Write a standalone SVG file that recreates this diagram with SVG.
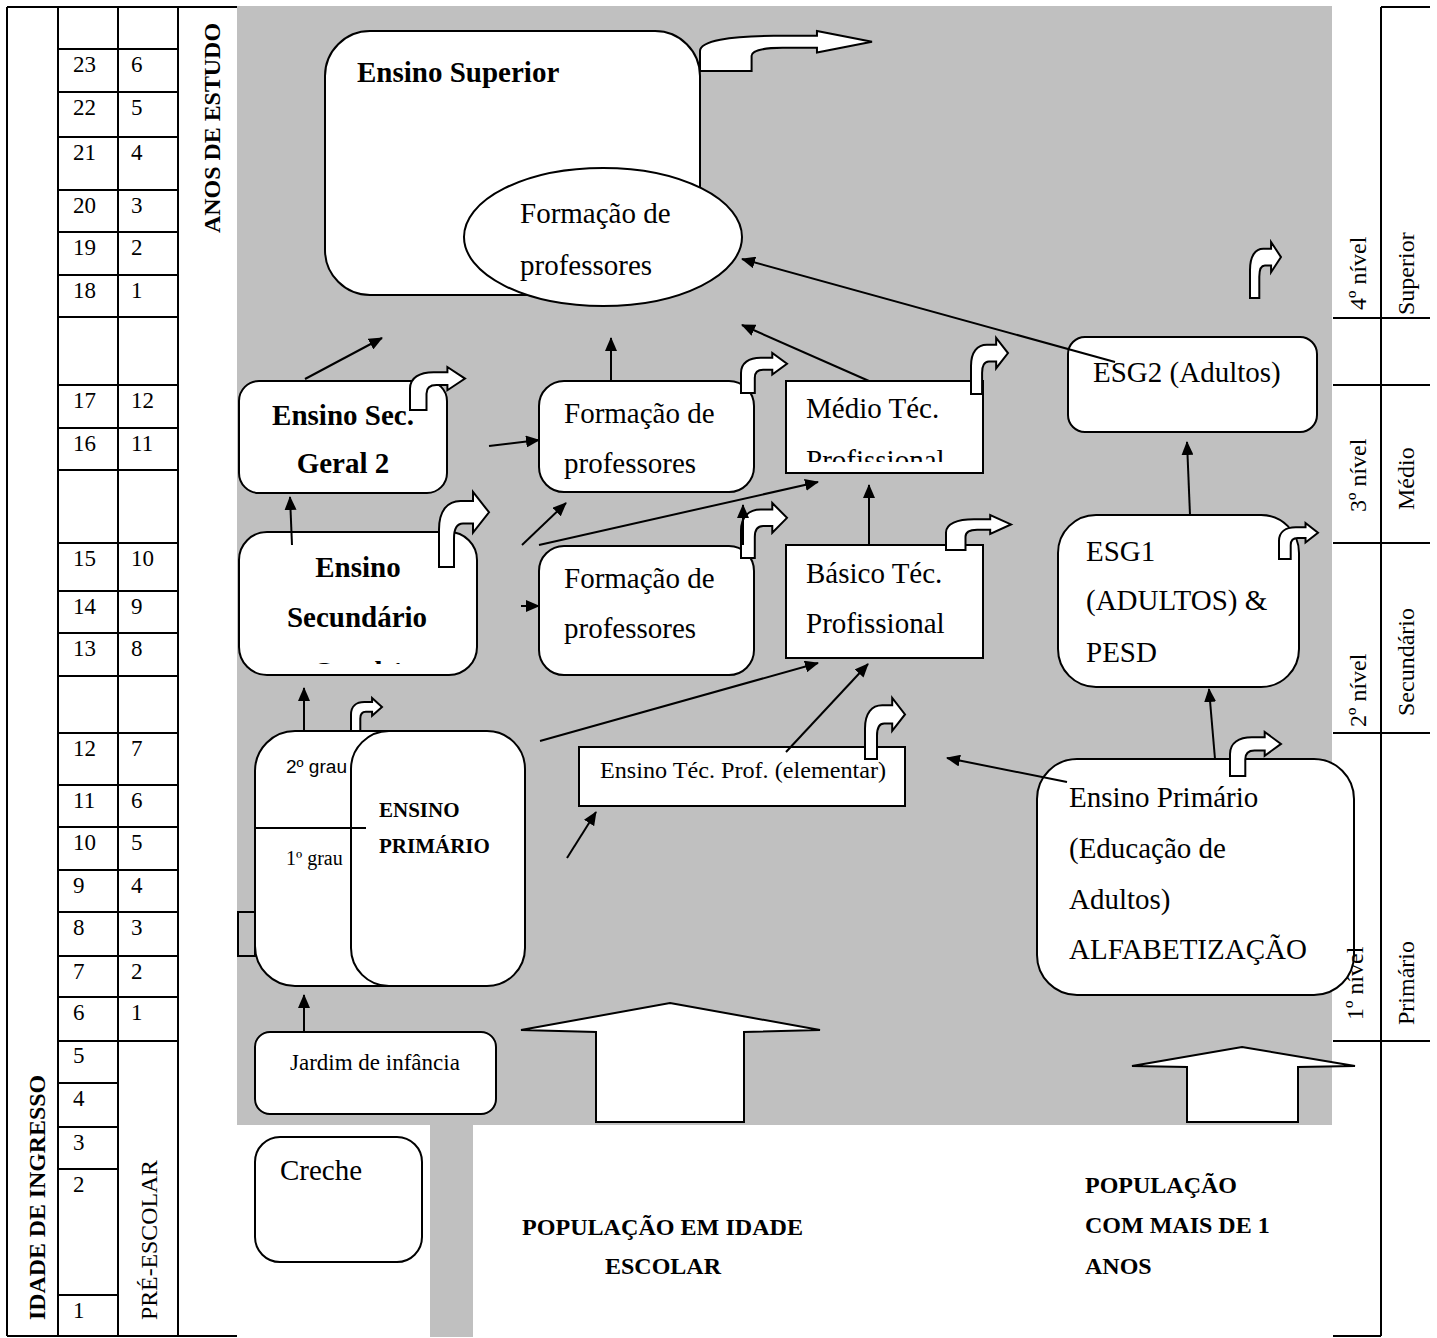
<svg xmlns="http://www.w3.org/2000/svg" xmlns:xlink="http://www.w3.org/1999/xlink" width="1437" height="1338" viewBox="0 0 1437 1338">
<style>
.t{font-family:"Liberation Serif","Times New Roman",serif;fill:#000}
.b{font-weight:bold}
.s29{font-size:29px}
.s24{font-size:24px}
.s23{font-size:23px}
.box{fill:#fff;stroke:#000;stroke-width:2}
.ln{stroke:#000;stroke-width:2;fill:none}
.cn{stroke:#000;stroke-width:2;fill:none;marker-end:url(#ah)}
.grey{fill:#c0c0c0}
</style>
<defs>
<marker id="ah" markerUnits="userSpaceOnUse" markerWidth="14" markerHeight="12" refX="13" refY="6" orient="auto">
<path d="M0,0 L14,6 L0,12 Z" fill="#000"/>
</marker>
<path id="bent" d="M0,1 L0,0.5 C0,0.25 0.17,0.12 0.43,0.12 L0.68,0.12 L0.68,0 L1,0.27 L0.68,0.54 L0.68,0.42 L0.48,0.42 C0.36,0.42 0.3,0.5 0.3,0.62 L0.3,1 Z" fill="#fff" stroke="#000" stroke-width="2" vector-effect="non-scaling-stroke"/>
<clipPath id="clipMedio"><rect x="787" y="382" width="195" height="80"/></clipPath>
<clipPath id="clipSec"><rect x="240" y="533" width="236" height="131"/></clipPath>
</defs>

<rect width="1437" height="1338" fill="#fff"/>

<g id="background">
<rect class="grey" x="237" y="6" width="1095" height="1119"/>
<rect class="grey" x="430" y="1125" width="43" height="212"/>
</g>

<g id="left-table">
<path class="ln" d="M7,7 V1336 M58,7 V1336 M118,7 V1336 M178,7 V1336 M7,7 H237 M7,1336 H237"/>
<path class="ln" d="M58,49 H178 M58,92 H178 M58,137 H178 M58,190 H178 M58,232 H178 M58,275 H178 M58,317 H178 M58,385 H178 M58,428 H178 M58,470 H178 M58,543 H178 M58,591 H178 M58,633 H178 M58,676 H178 M58,733 H178 M58,785 H178 M58,827 H178 M58,870 H178 M58,912 H178 M58,956 H178 M58,997 H178 M58,1041 H178 M58,1083 H118 M58,1127 H118 M58,1169 H118 M58,1295 H118"/>
<g class="t s23">
<text x="73" y="72">23</text><text x="131" y="72">6</text>
<text x="73" y="115">22</text><text x="131" y="115">5</text>
<text x="73" y="160">21</text><text x="131" y="160">4</text>
<text x="73" y="213">20</text><text x="131" y="213">3</text>
<text x="73" y="255">19</text><text x="131" y="255">2</text>
<text x="73" y="298">18</text><text x="131" y="298">1</text>
<text x="73" y="408">17</text><text x="131" y="408">12</text>
<text x="73" y="451">16</text><text x="131" y="451">11</text>
<text x="73" y="566">15</text><text x="131" y="566">10</text>
<text x="73" y="614">14</text><text x="131" y="614">9</text>
<text x="73" y="656">13</text><text x="131" y="656">8</text>
<text x="73" y="756">12</text><text x="131" y="756">7</text>
<text x="73" y="808">11</text><text x="131" y="808">6</text>
<text x="73" y="850">10</text><text x="131" y="850">5</text>
<text x="73" y="893">9</text><text x="131" y="893">4</text>
<text x="73" y="935">8</text><text x="131" y="935">3</text>
<text x="73" y="979">7</text><text x="131" y="979">2</text>
<text x="73" y="1020">6</text><text x="131" y="1020">1</text>
<text x="73" y="1063">5</text>
<text x="73" y="1106">4</text>
<text x="73" y="1150">3</text>
<text x="73" y="1192">2</text>
<text x="73" y="1318">1</text>
</g>
<text class="t b s24" transform="translate(220,233) rotate(-90)" textLength="210" lengthAdjust="spacingAndGlyphs">ANOS DE ESTUDO</text>
<text class="t b s24" transform="translate(45,1320) rotate(-90)" textLength="245" lengthAdjust="spacingAndGlyphs">IDADE DE INGRESSO</text>
<text class="t s24" transform="translate(157,1320) rotate(-90)" textLength="160" lengthAdjust="spacingAndGlyphs">PRÉ-ESCOLAR</text>
</g>

<g id="ensino-superior">
<rect class="box" x="325" y="31" width="375" height="264" rx="45"/>
<text class="t b s29" x="357" y="82">Ensino Superior</text>
</g>
<g id="formacao-professores-superior">
<ellipse class="box" cx="603" cy="237" rx="139" ry="69"/>
<text class="t s29" x="520" y="223">Formação de</text>
<text class="t s29" x="520" y="275">professores</text>
</g>

<g id="ensino-sec-geral-2">
<rect class="box" x="239" y="381" width="208" height="112" rx="20"/>
<text class="t b s29" x="343" y="425" text-anchor="middle">Ensino Sec.</text>
<text class="t b s29" x="343" y="473" text-anchor="middle">Geral 2</text>
</g>

<g id="ensino-secundario">
<rect class="box" x="239" y="532" width="238" height="143" rx="28"/>
<text class="t b s29" x="358" y="577" text-anchor="middle">Ensino</text>
<text class="t b s29" x="357" y="627" text-anchor="middle">Secundário</text>
<text class="t b s29" x="358" y="682" text-anchor="middle" clip-path="url(#clipSec)">Geral 1</text>
</g>

<g id="formacao-professores-1">
<rect class="box" x="539" y="381" width="215" height="111" rx="25"/>
<text class="t s29" x="564" y="423">Formação de</text>
<text class="t s29" x="564" y="473">professores</text>
</g>

<g id="medio-tec-profissional">
<rect class="box" x="786" y="381" width="197" height="92"/>
<text class="t s29" x="806" y="418">Médio Téc.</text>
<text class="t s29" x="806" y="470" clip-path="url(#clipMedio)">Profissional</text>
</g>

<g id="formacao-professores-2">
<rect class="box" x="539" y="546" width="215" height="129" rx="25"/>
<text class="t s29" x="564" y="588">Formação de</text>
<text class="t s29" x="564" y="638">professores</text>
</g>

<g id="basico-tec-profissional">
<rect class="box" x="786" y="545" width="197" height="113"/>
<text class="t s29" x="806" y="583">Básico Téc.</text>
<text class="t s29" x="806" y="633">Profissional</text>
</g>

<g id="esg2-adultos">
<rect class="box" x="1068" y="337" width="249" height="95" rx="17"/>
<text class="t s29" x="1093" y="382">ESG2 (Adultos)</text>
</g>

<g id="esg1-adultos-pesd">
<rect class="box" x="1058" y="515" width="241" height="172" rx="38"/>
<text class="t s29" x="1086" y="561">ESG1</text>
<text class="t s29" x="1086" y="610">(ADULTOS) &amp;</text>
<text class="t s29" x="1086" y="662">PESD</text>
</g>

<g id="ensino-primario">
<rect x="238" y="912" width="17" height="44" fill="none" stroke="#000" stroke-width="2"/>
<rect class="box" x="255" y="731" width="200" height="255" rx="40"/>
<rect class="box" x="351" y="731" width="174" height="255" rx="38"/>
<line class="ln" x1="255" y1="828" x2="366" y2="828"/>
<text x="286" y="773" font-family="'Liberation Sans',Arial,sans-serif" font-size="18" textLength="61" lengthAdjust="spacingAndGlyphs">2º grau</text>
<text class="t" x="286" y="865" font-size="20">1º grau</text>
<text class="t b" x="379" y="817" font-size="21">ENSINO</text>
<text class="t b" x="379" y="853" font-size="21">PRIMÁRIO</text>
</g>

<g id="ensino-tec-prof-elementar">
<rect class="box" x="579" y="747" width="326" height="59"/>
<text class="t s24" x="600" y="778" textLength="286" lengthAdjust="spacingAndGlyphs">Ensino Téc. Prof. (elementar)</text>
</g>

<g id="ensino-primario-adultos">
<rect class="box" x="1037" y="759" width="317" height="236" rx="40"/>
<text class="t s29" x="1069" y="807">Ensino Primário</text>
<text class="t s29" x="1069" y="858">(Educação de</text>
<text class="t s29" x="1069" y="909">Adultos)</text>
<text class="t s29" x="1069" y="959">ALFABETIZAÇÃO</text>
</g>

<g id="jardim-de-infancia">
<rect class="box" x="255" y="1032" width="241" height="82" rx="15"/>
<text class="t s23" x="290" y="1070">Jardim de infância</text>
</g>

<g id="creche">
<rect class="box" x="255" y="1137" width="167" height="125" rx="25"/>
<text class="t s29" x="280" y="1180">Creche</text>
</g>

<g id="populacao-arrows">
<polygon class="box" points="670,1003 820,1030 744,1032 744,1122 596,1122 596,1032 521,1030"/>
<polygon class="box" points="1242,1047 1355,1066 1298,1067 1298,1122 1187,1122 1187,1067 1132,1066"/>
</g>

<g id="populacao-labels">
<text class="t b s24" x="522" y="1235" textLength="281" lengthAdjust="spacingAndGlyphs">POPULAÇÃO EM IDADE</text>
<text class="t b s24" x="605" y="1274">ESCOLAR</text>
<text class="t b s24" x="1085" y="1193">POPULAÇÃO</text>
<text class="t b s24" x="1085" y="1233">COM MAIS DE 1</text>
<text class="t b s24" x="1085" y="1274">ANOS</text>
</g>

<g id="exit-arrows">
<use xlink:href="#bent" transform="translate(700,31) scale(172,40)"/>
<use xlink:href="#bent" transform="translate(410,367) scale(55,43)"/>
<use xlink:href="#bent" transform="translate(439,492) scale(50,75)"/>
<use xlink:href="#bent" transform="translate(741,353) scale(46,40)"/>
<use xlink:href="#bent" transform="translate(971,338) scale(37,56)"/>
<use xlink:href="#bent" transform="translate(741,503) scale(46,55)"/>
<use xlink:href="#bent" transform="translate(946,515) scale(65,35)"/>
<use xlink:href="#bent" transform="translate(351,698) scale(31,33)"/>
<use xlink:href="#bent" transform="translate(865,698) scale(40,61)"/>
<use xlink:href="#bent" transform="translate(1279,523) scale(39,36)"/>
<use xlink:href="#bent" transform="translate(1250,242) scale(31,56)"/>
<use xlink:href="#bent" transform="translate(1230,732) scale(51,44)"/>
</g>

<g id="connectors">
<line class="cn" x1="305" y1="379" x2="382" y2="338"/>
<line class="cn" x1="292" y1="545" x2="290" y2="497"/>
<line class="cn" x1="489" y1="446" x2="539" y2="440"/>
<line class="cn" x1="611" y1="381" x2="611" y2="338"/>
<line class="cn" x1="869" y1="381" x2="742" y2="325"/>
<line class="cn" x1="1115" y1="362" x2="742" y2="259"/>
<line class="cn" x1="522" y1="545" x2="566" y2="503"/>
<line class="cn" x1="539" y1="545" x2="818" y2="482"/>
<line class="cn" x1="521" y1="606" x2="539" y2="606"/>
<line class="cn" x1="743" y1="545" x2="743" y2="505"/>
<line class="cn" x1="869" y1="545" x2="869" y2="485"/>
<line class="cn" x1="540" y1="741" x2="818" y2="663"/>
<line class="cn" x1="786" y1="752" x2="868" y2="664"/>
<line class="cn" x1="567" y1="858" x2="596" y2="812"/>
<line class="cn" x1="304" y1="731" x2="304" y2="688"/>
<line class="cn" x1="304" y1="1032" x2="304" y2="995"/>
<line class="cn" x1="1067" y1="782" x2="947" y2="758"/>
<line class="cn" x1="1215" y1="759" x2="1209" y2="689"/>
<line class="cn" x1="1190" y1="515" x2="1187" y2="442"/>
</g>

<g id="right-table">
<path class="ln" d="M1381,7 V1336 M1381,7 H1430 M1333,318 H1430 M1333,385 H1430 M1333,543 H1430 M1333,733 H1430 M1333,1041 H1430 M1333,1336 H1381"/>
<g class="t s24">
<text transform="translate(1366,310) rotate(-90)">4º nível</text>
<text transform="translate(1414,315) rotate(-90)">Superior</text>
<text transform="translate(1366,512) rotate(-90)">3º nível</text>
<text transform="translate(1414,510) rotate(-90)">Médio</text>
<text transform="translate(1366,727) rotate(-90)">2º nível</text>
<text transform="translate(1414,716) rotate(-90)">Secundário</text>
<text transform="translate(1363,1020) rotate(-90)">1º nível</text>
<text transform="translate(1414,1025) rotate(-90)">Primário</text>
</g>
</g>
</svg>
